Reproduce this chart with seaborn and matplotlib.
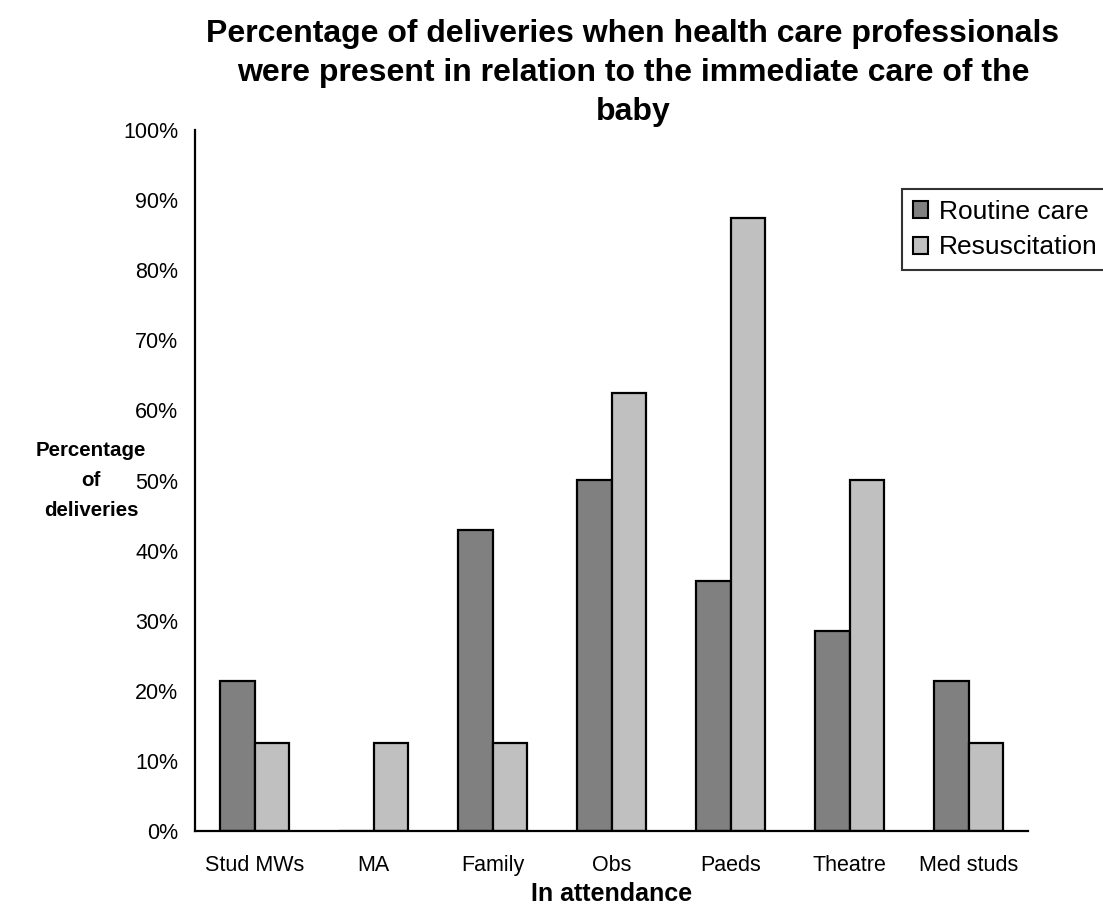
import matplotlib
matplotlib.use("Agg")
import matplotlib.pyplot as plt
import matplotlib.patches as mpatches
import numpy as np
import pandas as pd
import seaborn as sns

categories = ["Stud MWs", "MA", "Family", "Obs", "Paeds", "Theatre", "Med studs"]
routine_care = [21.4, 0.0, 42.9, 50.0, 35.7, 28.6, 21.4]
resuscitation = [12.5, 12.5, 12.5, 62.5, 87.5, 50.0, 12.5]
series_names = ["Routine care", "Resuscitation"]
y_ticks = [0, 10, 20, 30, 40, 50, 60, 70, 80, 90, 100]
ylabel_lines = ["Percentage", "of", "deliveries"]

df = pd.DataFrame({
    "cat": categories * 2,
    "val": routine_care + resuscitation,
    "series": [series_names[0]] * len(categories) + [series_names[1]] * len(categories),
})

sns.set_theme(style="white")
plt.rcParams["font.family"] = ["Liberation Sans", "DejaVu Sans"]
plt.rcParams["text.color"] = "black"
plt.rcParams["xtick.color"] = "black"
plt.rcParams["ytick.color"] = "black"

colors = {"Routine care": "#808080", "Resuscitation": "#C0C0C0"}

fig = plt.figure(figsize=(11.03, 9.13), dpi=100)
ax = fig.add_axes([195 / 1103, 82 / 913, (1028 - 195) / 1103, (831 - 130) / 913])

sns.barplot(data=df, x="cat", y="val", hue="series", order=categories,
            hue_order=series_names, palette=colors, width=0.58,
            edgecolor="black", linewidth=1.6, saturation=1, ax=ax, legend=False)

ax.set_ylim(0, 100)
ax.set_xlim(-0.5, len(categories) - 0.5)
ax.set_yticks(y_ticks)
ax.set_yticklabels([f"{t}%" for t in y_ticks], fontsize=15.5, color="black")
ax.set_xticks(np.arange(len(categories)))
ax.set_xticklabels(categories, fontsize=15.5, color="black")
ax.set_xticks(np.arange(-0.5, len(categories), 1), minor=True)
ax.tick_params(axis="x", which="major", length=0, pad=17)
ax.tick_params(axis="x", which="minor", length=6, width=1.5, direction="out", color="black")
ax.tick_params(axis="y", length=6, width=1.5, direction="out", color="black", pad=6)
for s in ["top", "right"]:
    ax.spines[s].set_visible(False)
for s in ["left", "bottom"]:
    ax.spines[s].set_color("black")
    ax.spines[s].set_linewidth(1.6)
ax.set_xlabel("")
ax.set_ylabel("")

fig.text(612 / 1103, 1 - 894 / 913, "In attendance", ha="center", va="center",
         fontsize=18, fontweight="bold")
for line, ypix in zip(ylabel_lines, [451, 480, 510]):
    fig.text(91 / 1103, 1 - ypix / 913, line, ha="center", va="center",
             fontsize=14.8, fontweight="bold")
fig.text(633 / 1103, 1 - 73 / 913,
         "Percentage of deliveries when health care professionals\nwere present in relation to the immediate care of the\nbaby",
         ha="center", va="center", fontsize=23, fontweight="bold", linespacing=1.38)

handles = [mpatches.Patch(facecolor=colors[n], edgecolor="black", linewidth=1.5, label=n)
           for n in series_names]
leg = fig.legend(handles=handles, loc="upper left",
                 bbox_to_anchor=(902 / 1103, 1 - 189 / 913), fontsize=19,
                 frameon=True, fancybox=False, handlelength=0.6, handleheight=0.6,
                 handletextpad=0.4, borderpad=0.4, labelspacing=0.45, borderaxespad=0)
leg.get_frame().set_edgecolor("black")
leg.get_frame().set_linewidth(1.5)

fig.savefig("out.png", dpi=100)
